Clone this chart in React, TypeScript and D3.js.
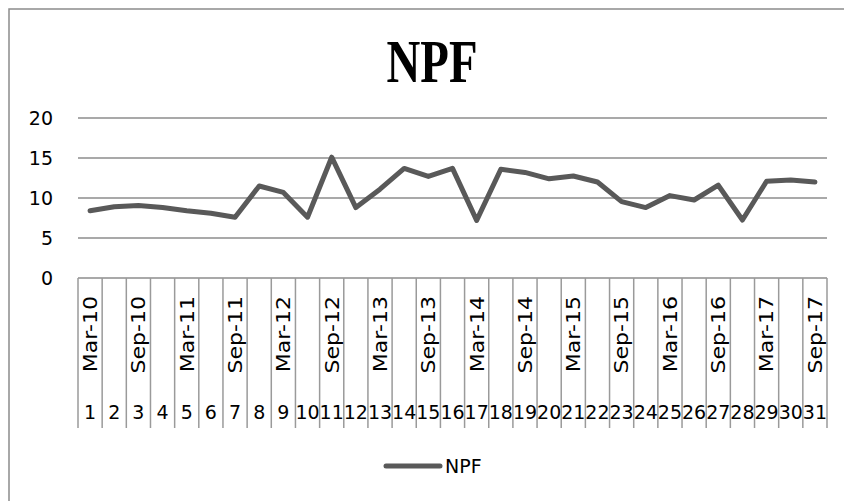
import React, { useEffect, useRef } from "react";
import * as d3 from "d3";

// quarterly periods, Mar-10 .. Sep-17
const periods = [
  "Mar-10", "Jun-10", "Sep-10", "Dec-10",
  "Mar-11", "Jun-11", "Sep-11", "Dec-11",
  "Mar-12", "Jun-12", "Sep-12", "Dec-12",
  "Mar-13", "Jun-13", "Sep-13", "Dec-13",
  "Mar-14", "Jun-14", "Sep-14", "Dec-14",
  "Mar-15", "Jun-15", "Sep-15", "Dec-15",
  "Mar-16", "Jun-16", "Sep-16", "Dec-16",
  "Mar-17", "Jun-17", "Sep-17",
];
const indexLabels = periods.map((_, i) => String(i + 1));
const npf = [
  8.4, 8.9, 9.05, 8.8, 8.4, 8.1, 7.6, 11.5, 10.7, 7.6, 15.1,
  8.8, 11.1, 13.7, 12.7, 13.7, 7.2, 13.6, 13.2, 12.4, 12.75,
  12.0, 9.55, 8.8, 10.3, 9.75, 11.6, 7.25, 12.1, 12.25, 12.0,
];
const yTicks = [0, 5, 10, 15, 20];
const seriesName = "NPF";

const W = 844;
const H = 501;
const font = "'DejaVu Sans', sans-serif";

export default function App() {
  const ref = useRef<SVGSVGElement>(null);

  useEffect(() => {
    const svg = d3.select(ref.current);
    svg.selectAll("*").remove();

    const left = 78, right = 827, top = 118, bottom = 278;

    const x = d3.scaleBand<number>()
      .domain(d3.range(npf.length))
      .range([left, right])
      .paddingInner(0)
      .paddingOuter(0);
    const y = d3.scaleLinear().domain([0, 20]).range([bottom, top]);

    // frame (right and bottom edges fall outside the picture)
    svg.append("rect")
      .attr("x", 9).attr("y", 9)
      .attr("width", 860).attr("height", 520)
      .attr("fill", "#fff")
      .attr("stroke", "#8c8c8c")
      .attr("stroke-width", 1.5);

    // title
    svg.append("text")
      .attr("x", 432).attr("y", 82)
      .attr("text-anchor", "middle")
      .attr("font-family", "'Liberation Serif', 'Times New Roman', serif")
      .attr("font-weight", "bold")
      .attr("font-size", 62)
      .attr("textLength", 91)
      .attr("lengthAdjust", "spacingAndGlyphs")
      .text(seriesName);

    // grid
    svg.append("g")
      .selectAll("line")
      .data(yTicks)
      .join("line")
      .attr("x1", left).attr("x2", right)
      .attr("y1", d => y(d)).attr("y2", d => y(d))
      .attr("stroke", "#8c8c8c")
      .attr("stroke-width", 1.5);

    svg.append("g")
      .selectAll("text")
      .data(yTicks)
      .join("text")
      .attr("x", 53).attr("y", d => y(d))
      .attr("dy", "0.36em")
      .attr("text-anchor", "end")
      .attr("font-family", font)
      .attr("font-size", 19)
      .attr("fill", "#000")
      .text(d => d);

    // category separators
    const bounds = d3.range(npf.length + 1).map(i => left + i * x.bandwidth());
    svg.append("g")
      .selectAll("line")
      .data(bounds)
      .join("line")
      .attr("x1", d => d).attr("x2", d => d)
      .attr("y1", bottom).attr("y2", 428)
      .attr("stroke", "#9a9a9a")
      .attr("stroke-width", 1.5);

    // date labels, every other one
    svg.append("g")
      .selectAll("text")
      .data(periods.map((p, i) => ({ p, i })).filter(d => d.i % 2 === 0))
      .join("text")
      .attr("transform", d => `translate(${x(d.i)! + x.bandwidth() / 2},296) rotate(-90) scale(1.16,1)`)
      .attr("dy", "0.36em")
      .attr("text-anchor", "end")
      .attr("font-family", font)
      .attr("font-size", 19)
      .text(d => d.p);

    svg.append("g")
      .selectAll("text")
      .data(indexLabels)
      .join("text")
      .attr("x", (d, i) => x(i)! + x.bandwidth() / 2)
      .attr("y", 412)
      .attr("dy", "0.36em")
      .attr("text-anchor", "middle")
      .attr("font-family", font)
      .attr("font-size", 19)
      .text(d => d);

    // series line
    const line = d3.line<number>()
      .x((d, i) => x(i)! + x.bandwidth() / 2)
      .y(d => y(d));
    svg.append("path")
      .datum(npf)
      .attr("d", line)
      .attr("fill", "none")
      .attr("stroke", "#595959")
      .attr("stroke-width", 5)
      .attr("stroke-linejoin", "round")
      .attr("stroke-linecap", "round");

    // legend
    svg.append("line")
      .attr("x1", 386).attr("x2", 440)
      .attr("y1", 466).attr("y2", 466)
      .attr("stroke", "#595959")
      .attr("stroke-width", 5)
      .attr("stroke-linecap", "round");
    svg.append("text")
      .attr("x", 445).attr("y", 466)
      .attr("dy", "0.36em")
      .attr("font-family", font)
      .attr("font-size", 19)
      .text(seriesName);
  }, []);

  return (
    <svg ref={ref} width={W} height={H}
      style={{ position: "absolute", left: 0, top: 0, display: "block" }}></svg>
  );
}
